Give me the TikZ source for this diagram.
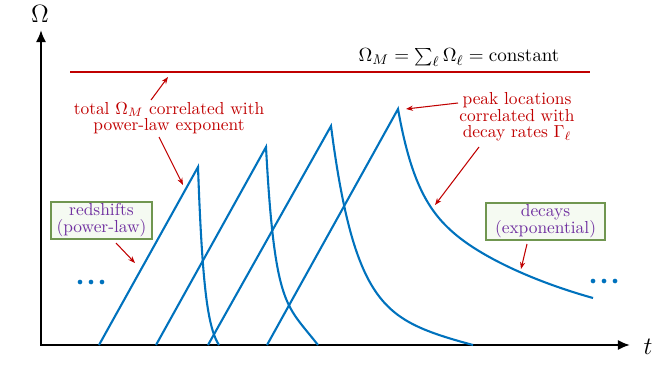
\documentclass[tikz,border=0pt]{standalone}
\usetikzlibrary{arrows.meta}
\definecolor{cblue}{RGB}{0,114,189}
\definecolor{cred}{RGB}{192,0,0}
\definecolor{cpurple}{RGB}{112,48,160}
\definecolor{cgreen}{RGB}{112,150,80}
\definecolor{cfill}{RGB}{245,250,242}
\begin{document}
\begin{tikzpicture}[x=0.575pt,y=-0.575pt,
 axis/.style={line width=1.7pt,{Latex[length=7pt,width=6pt]}-{Latex[length=7pt,width=6pt]}},
 curve/.style={cblue,line width=1.2pt,line join=miter},
 redline/.style={cred,line width=1.2pt},
 redarrow/.style={cred,line width=0.6pt,-{Stealth[length=4pt,width=3pt]}},
 redlabel/.style={cred,align=center,font=\fontsize{10}{9.6}\selectfont},
 box/.style={draw=cgreen,fill=cfill,line width=0.8pt,text=cpurple,align=center,font=\fontsize{10}{9.8}\selectfont,minimum height=21.3pt,inner sep=1pt},
 bdot/.style={circle,fill=cblue,inner sep=0pt,minimum size=2.7pt}]
\useasboundingbox (0,0) rectangle (665,390);
% axes
\coordinate (O) at (41,345);
\coordinate (ytop) at (41,30);
\coordinate (xend) at (630,345);
\draw[axis] (ytop) -- (O) -- (xend);
\node[font=\Large] (Omega) at (40,14) {$\Omega$};
\node[font=\Large] (tlab) at (648,347) {$t$};
% constant line
\coordinate (rl) at (70,72);
\coordinate (rr) at (590,72);
\draw[redline] (rl) -- (rr);
\node[anchor=base,font=\fontsize{10.9}{13}\selectfont] (eq) at (459,62) {$\Omega_M=\sum_\ell\Omega_\ell=\mathrm{constant}$};
% peaks and starts
\coordinate (s1) at (99,345);  \coordinate (p1) at (198,167);
\coordinate (s2) at (156,345); \coordinate (p2) at (266,147);
\coordinate (s3) at (208,345); \coordinate (p3) at (331,126);
\coordinate (s4) at (267,345); \coordinate (p4) at (398,109);
\draw[curve] (s1) -- (p1) -- plot[domain=0:21,samples=120,variable=\d]
  ({198+\d},{345-178*exp(-\d/6.3)*(1-(\d/21)^5)});
\draw[curve] (s2) -- (p2) -- plot[domain=0:52,samples=120,variable=\d]
  ({266+\d},{345-198*(0.7*exp(-\d/8)+0.3*exp(-\d/40))*(1-(\d/52)^4)});
\draw[curve] (s3) -- (p3) -- plot[domain=0:142,samples=140,variable=\d]
  ({331+\d},{345-219*(0.8*exp(-\d/24)+0.2*exp(-\d/90))*(1-(\d/142)^4)});
\draw[curve] (s4) -- (p4) -- plot[domain=0:195,samples=160,variable=\d]
  ({398+\d},{345-236*(0.36*exp(-\d/18)+0.64*exp(-\d/167))});
% dots
\foreach \x in {80,91,102} \node[bdot] (ld\x) at (\x,282) {};
\foreach \x in {593,604,615} \node[bdot] (rd\x) at (\x,281) {};
% red labels
\node[redlabel] (tot) at (169,118) {total $\Omega_M$ correlated with\\power-law exponent};
\node[redlabel] (peak) at (517,117) {peak locations\\correlated with\\decay rates $\Gamma_\ell$};
\coordinate (a1s) at (151,100); \coordinate (a1e) at (168,77);
\coordinate (a2s) at (159,137); \coordinate (a2e) at (183,185);
\coordinate (a3s) at (458,103); \coordinate (a3e) at (406,109);
\coordinate (a4s) at (479,147); \coordinate (a4e) at (435,205);
\draw[redarrow] (a1s) -- (a1e);
\draw[redarrow] (a2s) -- (a2e);
\draw[redarrow] (a3s) -- (a3e);
\draw[redarrow] (a4s) -- (a4e);
% boxes
\node[box,minimum width=58pt] (rs) at (101.5,220.5) {redshifts\\(power-law)};
\node[box,minimum width=68.4pt] (dc) at (545.5,221.5) {decays\\(exponential)};
\coordinate (a5s) at (116,243); \coordinate (a5e) at (135,263);
\coordinate (a6s) at (527,244); \coordinate (a6e) at (521,269);
\draw[redarrow] (a5s) -- (a5e);
\draw[redarrow] (a6s) -- (a6e);
\end{tikzpicture}
\end{document}
